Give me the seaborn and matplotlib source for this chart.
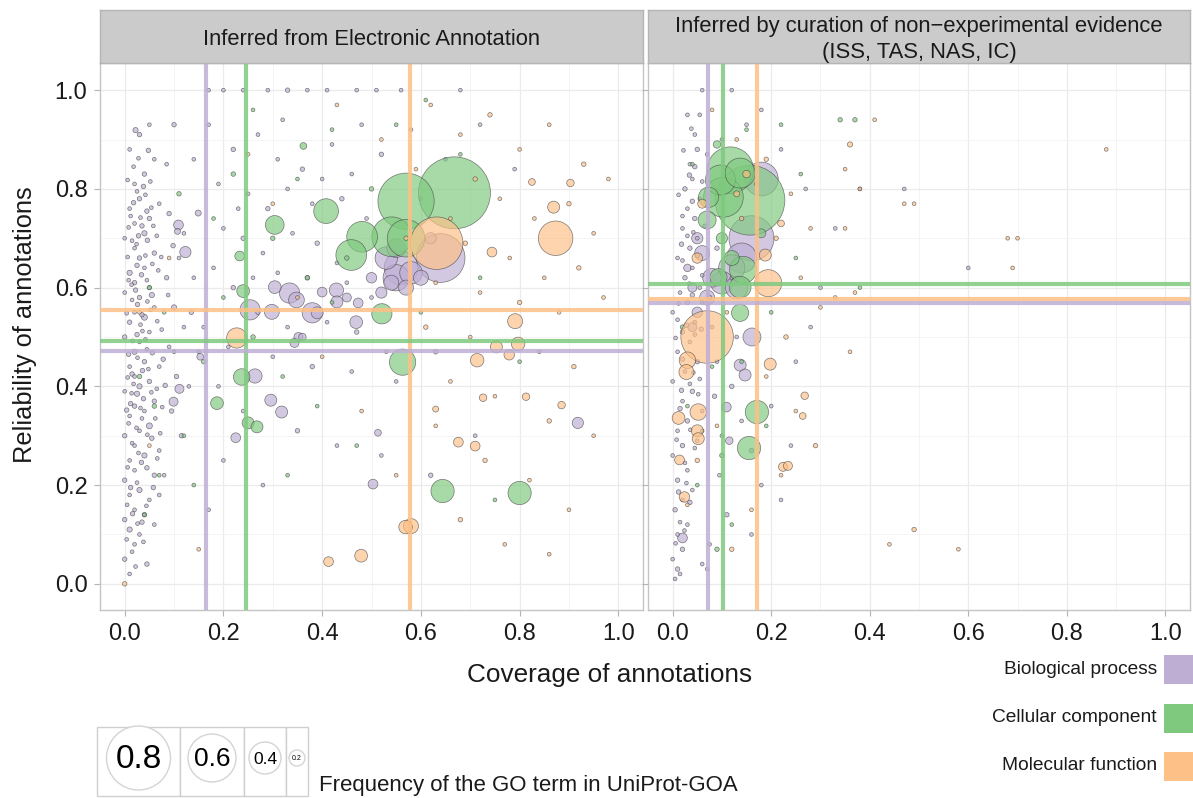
import numpy as np
import pandas as pd
import matplotlib
matplotlib.use("Agg")
import matplotlib.pyplot as plt
from matplotlib import font_manager
from matplotlib.patches import Rectangle, Circle
import seaborn as sns

# ---------------- data ----------------
CATEGORIES = ["Biological process", "Cellular component", "Molecular function"]
COLORS = ["#beaed4", "#7fc97f", "#fdc086"]
PANELS = ["Inferred from Electronic Annotation",
          "Inferred by curation of non\u2212experimental evidence\n(ISS, TAS, NAS, IC)"]

# thresholds (coverage, reliability) per category
LEFT_THRESH_X = [0.165, 0.245, 0.577]
LEFT_THRESH_Y = [0.472, 0.492, 0.555]
RIGHT_THRESH_X = [0.071, 0.103, 0.171]
RIGHT_THRESH_Y = [0.569, 0.607, 0.577]

# (coverage, reliability, frequency)
LEFT_BP = [
    (0.64, 0.66, 0.65), (0.56, 0.64, 0.45), (0.55, 0.62, 0.35), (0.58, 0.63, 0.30), (0.53, 0.66, 0.30),
    (0.57, 0.60, 0.20), (0.54, 0.61, 0.20), (0.60, 0.62, 0.20), (0.55, 0.68, 0.25), (0.52, 0.59, 0.15),
    (0.334, 0.589, 0.27), (0.348, 0.575, 0.21), (0.38, 0.549, 0.27), (0.304, 0.601, 0.17), (0.298, 0.551, 0.20),
    (0.254, 0.555, 0.27), (0.429, 0.595, 0.19), (0.43, 0.571, 0.16), (0.469, 0.53, 0.17), (0.473, 0.569, 0.13),
    (0.40, 0.591, 0.13), (0.39, 0.549, 0.16), (0.109, 0.727, 0.13), (0.123, 0.672, 0.15), (0.149, 0.751, 0.08),
    (0.107, 0.714, 0.08), (0.022, 0.919, 0.07), (0.264, 0.421, 0.19), (0.111, 0.395, 0.12), (0.099, 0.369, 0.12),
    (0.296, 0.372, 0.16), (0.318, 0.348, 0.16), (0.225, 0.296, 0.13), (0.503, 0.202, 0.13), (0.513, 0.306, 0.09),
    (0.352, 0.50, 0.12), (0.344, 0.488, 0.12), (0.153, 0.46, 0.09), (0.918, 0.326, 0.15), (0.36, 0.50, 0.10),
    (0.45, 0.58, 0.12), (0.50, 0.62, 0.14), (0.62, 0.70, 0.15),
]
LEFT_BP_SMALL = [
    (0.010, 0.020, 0.05), (0.000, 0.050, 0.06), (0.020, 0.080, 0.05), (0.010, 0.110, 0.07), (0.030, 0.100, 0.05),
    (0.000, 0.130, 0.06), (0.020, 0.150, 0.05), (0.040, 0.140, 0.06), (0.010, 0.180, 0.05), (0.030, 0.190, 0.07),
    (0.050, 0.170, 0.05), (0.000, 0.210, 0.06), (0.020, 0.230, 0.05), (0.060, 0.220, 0.06), (0.010, 0.250, 0.05),
    (0.040, 0.260, 0.07), (0.020, 0.280, 0.05), (0.070, 0.270, 0.05), (0.000, 0.300, 0.06), (0.030, 0.310, 0.05),
    (0.050, 0.320, 0.08), (0.010, 0.340, 0.05), (0.020, 0.360, 0.06), (0.040, 0.350, 0.05), (0.060, 0.370, 0.06),
    (0.000, 0.390, 0.05), (0.030, 0.400, 0.07), (0.020, 0.420, 0.05), (0.050, 0.410, 0.06), (0.010, 0.440, 0.05),
    (0.040, 0.450, 0.06), (0.070, 0.440, 0.05), (0.020, 0.470, 0.07), (0.030, 0.490, 0.05), (0.000, 0.500, 0.06),
    (0.050, 0.510, 0.05), (0.010, 0.530, 0.06), (0.020, 0.550, 0.05), (0.040, 0.540, 0.08), (0.060, 0.560, 0.05),
    (0.030, 0.580, 0.06), (0.000, 0.590, 0.05), (0.020, 0.610, 0.06), (0.050, 0.600, 0.05), (0.010, 0.630, 0.07),
    (0.040, 0.640, 0.05), (0.030, 0.660, 0.06), (0.020, 0.680, 0.05), (0.060, 0.670, 0.06), (0.000, 0.700, 0.05),
    (0.040, 0.710, 0.07), (0.020, 0.730, 0.05), (0.050, 0.740, 0.06), (0.010, 0.760, 0.05), (0.030, 0.780, 0.06),
    (0.070, 0.770, 0.05), (0.020, 0.810, 0.05), (0.040, 0.830, 0.06), (0.060, 0.860, 0.05), (0.010, 0.880, 0.05),
    (0.030, 0.910, 0.06), (0.050, 0.930, 0.05), (0.015, 0.065, 0.05), (0.035, 0.125, 0.06), (0.025, 0.205, 0.05),
    (0.045, 0.235, 0.06), (0.015, 0.285, 0.05), (0.055, 0.295, 0.06), (0.035, 0.335, 0.05), (0.025, 0.385, 0.07),
    (0.065, 0.395, 0.05), (0.015, 0.425, 0.06), (0.045, 0.475, 0.05), (0.025, 0.505, 0.06), (0.075, 0.515, 0.05),
    (0.035, 0.545, 0.06), (0.015, 0.575, 0.05), (0.055, 0.585, 0.07), (0.045, 0.615, 0.05), (0.025, 0.645, 0.06),
    (0.015, 0.695, 0.05), (0.035, 0.725, 0.06), (0.065, 0.705, 0.05), (0.045, 0.755, 0.06), (0.025, 0.795, 0.05),
    (0.085, 0.620, 0.06), (0.090, 0.480, 0.05), (0.095, 0.350, 0.06), (0.080, 0.220, 0.05), (0.100, 0.560, 0.07),
    (0.110, 0.660, 0.05), (0.105, 0.420, 0.06), (0.120, 0.520, 0.05), (0.090, 0.750, 0.06), (0.130, 0.400, 0.05),
    (0.115, 0.300, 0.06), (0.140, 0.620, 0.05), (0.085, 0.850, 0.05), (0.100, 0.930, 0.06), (0.120, 0.710, 0.05),
    (0.135, 0.550, 0.06), (0.150, 0.470, 0.05), (0.060, 0.120, 0.05), (0.045, 0.040, 0.06), (0.070, 0.180, 0.05),
    (0.005, 0.160, 0.05), (0.012, 0.195, 0.06), (0.028, 0.265, 0.05), (0.008, 0.325, 0.05), (0.038, 0.375, 0.06),
    (0.018, 0.405, 0.05), (0.048, 0.435, 0.05), (0.008, 0.465, 0.06), (0.032, 0.525, 0.05), (0.052, 0.555, 0.05),
    (0.022, 0.595, 0.06), (0.008, 0.615, 0.05), (0.042, 0.665, 0.05), (0.028, 0.705, 0.06), (0.058, 0.725, 0.05),
    (0.012, 0.745, 0.05), (0.038, 0.805, 0.06), (0.052, 0.815, 0.05), (0.018, 0.845, 0.05), (0.068, 0.635, 0.05),
    (0.078, 0.455, 0.06), (0.062, 0.335, 0.05), (0.072, 0.305, 0.05), (0.058, 0.195, 0.06), (0.038, 0.085, 0.05),
    (0.022, 0.035, 0.05), (0.012, 0.365, 0.06), (0.042, 0.495, 0.05), (0.088, 0.585, 0.05), (0.098, 0.685, 0.06),
    (0.004, 0.090, 0.05), (0.026, 0.122, 0.05), (0.016, 0.142, 0.06), (0.044, 0.158, 0.05), (0.006, 0.236, 0.05),
    (0.034, 0.246, 0.06), (0.024, 0.316, 0.05), (0.046, 0.302, 0.05), (0.004, 0.352, 0.06), (0.032, 0.356, 0.05),
    (0.054, 0.388, 0.05), (0.014, 0.386, 0.05), (0.036, 0.432, 0.06), (0.006, 0.418, 0.05), (0.026, 0.458, 0.05),
    (0.056, 0.468, 0.06), (0.016, 0.492, 0.05), (0.036, 0.512, 0.05), (0.004, 0.548, 0.05), (0.026, 0.566, 0.06),
    (0.046, 0.572, 0.05), (0.014, 0.606, 0.05), (0.034, 0.626, 0.06), (0.056, 0.648, 0.05), (0.006, 0.662, 0.05),
    (0.024, 0.688, 0.05), (0.046, 0.696, 0.06), (0.008, 0.722, 0.05), (0.032, 0.742, 0.05), (0.054, 0.762, 0.05),
    (0.018, 0.772, 0.06), (0.042, 0.788, 0.05), (0.006, 0.818, 0.05), (0.028, 0.862, 0.05), (0.048, 0.878, 0.06),
    (0.076, 0.358, 0.05), (0.066, 0.532, 0.05), (0.082, 0.402, 0.06), (0.074, 0.662, 0.05), (0.066, 0.254, 0.05),
    (0.17, 1.00, 0.05), (0.24, 1.00, 0.05), (0.33, 1.00, 0.06), (0.41, 1.00, 0.05), (0.47, 1.00, 0.05),
    (0.56, 1.00, 0.05), (0.17, 0.93, 0.05), (0.22, 0.88, 0.06), (0.27, 0.91, 0.05), (0.31, 0.86, 0.05),
    (0.36, 0.84, 0.06), (0.42, 0.89, 0.05), (0.46, 0.83, 0.05), (0.52, 0.87, 0.06), (0.19, 0.81, 0.05),
    (0.25, 0.79, 0.05), (0.29, 0.76, 0.06), (0.33, 0.80, 0.05), (0.38, 0.77, 0.05), (0.44, 0.78, 0.06),
    (0.49, 0.74, 0.05), (0.20, 0.72, 0.05), (0.24, 0.70, 0.06), (0.28, 0.67, 0.05), (0.34, 0.71, 0.05),
    (0.39, 0.69, 0.06), (0.43, 0.65, 0.05), (0.18, 0.64, 0.05), (0.22, 0.60, 0.06), (0.26, 0.62, 0.05),
    (0.31, 0.63, 0.05), (0.37, 0.62, 0.06), (0.45, 0.61, 0.05), (0.50, 0.58, 0.05), (0.27, 0.55, 0.06),
    (0.33, 0.52, 0.05), (0.41, 0.53, 0.05), (0.47, 0.51, 0.06), (0.21, 0.48, 0.05), (0.30, 0.46, 0.05),
    (0.38, 0.44, 0.06), (0.46, 0.43, 0.05), (0.55, 0.41, 0.05), (0.63, 0.47, 0.06), (0.19, 0.40, 0.05),
    (0.24, 0.35, 0.05), (0.35, 0.31, 0.06), (0.43, 0.28, 0.05), (0.52, 0.26, 0.05), (0.62, 0.22, 0.06),
    (0.71, 0.30, 0.05), (0.20, 0.25, 0.05), (0.28, 0.20, 0.05), (0.17, 0.15, 0.05), (0.60, 0.78, 0.05),
    (0.65, 0.86, 0.05), (0.72, 0.93, 0.05), (0.79, 0.84, 0.05), (0.58, 0.92, 0.05), (0.68, 1.00, 0.05),
    (0.16, 0.52, 0.05), (0.20, 1.00, 0.05), (0.29, 1.00, 0.05), (0.37, 1.00, 0.05), (0.51, 1.00, 0.05),
    (0.14, 0.86, 0.05), (0.32, 0.94, 0.05), (0.40, 0.82, 0.05), (0.48, 0.93, 0.05), (0.23, 0.76, 0.05),
]
LEFT_CC = [
    (0.668, 0.792, 0.96), (0.57, 0.775, 0.75), (0.57, 0.70, 0.50), (0.541, 0.703, 0.53), (0.481, 0.703, 0.41),
    (0.459, 0.666, 0.41), (0.408, 0.755, 0.33), (0.304, 0.727, 0.25), (0.362, 0.887, 0.09), (0.233, 0.664, 0.13),
    (0.24, 0.593, 0.17), (0.521, 0.547, 0.27), (0.563, 0.449, 0.35), (0.644, 0.188, 0.31), (0.80, 0.184, 0.31),
    (0.237, 0.419, 0.22), (0.187, 0.366, 0.17), (0.25, 0.326, 0.16), (0.268, 0.318, 0.16),
    (0.05, 0.60, 0.06), (0.08, 0.55, 0.05), (0.03, 0.42, 0.06), (0.10, 0.47, 0.05), (0.06, 0.36, 0.06),
    (0.12, 0.30, 0.05), (0.07, 0.22, 0.05), (0.16, 0.45, 0.06), (0.20, 0.58, 0.05), (0.26, 0.50, 0.06),
    (0.32, 0.42, 0.05), (0.37, 0.62, 0.06), (0.42, 0.57, 0.05), (0.30, 0.70, 0.06), (0.35, 0.82, 0.05),
    (0.42, 0.92, 0.05), (0.50, 0.80, 0.06), (0.55, 0.93, 0.05), (0.61, 0.98, 0.05), (0.68, 0.87, 0.05),
    (0.22, 0.83, 0.06), (0.18, 0.74, 0.05), (0.45, 0.66, 0.06), (0.60, 0.55, 0.05), (0.72, 0.62, 0.05),
    (0.26, 0.96, 0.05), (0.14, 0.20, 0.05), (0.04, 0.14, 0.05), (0.39, 0.36, 0.05), (0.75, 0.17, 0.05),
    (0.47, 0.28, 0.05), (0.80, 0.45, 0.05), (0.33, 0.22, 0.05), (0.11, 0.79, 0.06),
]
LEFT_MF = [
    (0.632, 0.69, 0.70), (0.873, 0.70, 0.46), (0.869, 0.763, 0.16), (0.903, 0.812, 0.10), (0.825, 0.814, 0.09),
    (0.744, 0.672, 0.13), (0.791, 0.532, 0.20), (0.797, 0.486, 0.18), (0.753, 0.48, 0.16), (0.779, 0.464, 0.14),
    (0.714, 0.453, 0.18), (0.726, 0.377, 0.10), (0.813, 0.379, 0.10), (0.885, 0.362, 0.10), (0.63, 0.354, 0.08),
    (0.676, 0.287, 0.13), (0.71, 0.279, 0.13), (0.58, 0.117, 0.20), (0.569, 0.115, 0.18), (0.479, 0.057, 0.17),
    (0.413, 0.045, 0.13), (0.227, 0.498, 0.27),
    (0.62, 0.97, 0.05), (0.68, 0.91, 0.05), (0.74, 0.95, 0.06), (0.80, 0.88, 0.05), (0.86, 0.93, 0.05),
    (0.93, 0.85, 0.06), (0.98, 0.82, 0.05), (0.59, 0.84, 0.05), (0.71, 0.82, 0.06), (0.76, 0.78, 0.05),
    (0.83, 0.74, 0.05), (0.90, 0.77, 0.06), (0.95, 0.71, 0.05), (0.66, 0.74, 0.05), (0.69, 0.69, 0.06),
    (0.78, 0.66, 0.05), (0.85, 0.62, 0.05), (0.92, 0.64, 0.06), (0.63, 0.61, 0.05), (0.72, 0.59, 0.05),
    (0.80, 0.57, 0.06), (0.88, 0.55, 0.05), (0.97, 0.58, 0.05), (0.61, 0.52, 0.06), (0.70, 0.50, 0.05),
    (0.84, 0.47, 0.05), (0.91, 0.44, 0.06), (0.66, 0.41, 0.05), (0.75, 0.38, 0.05), (0.86, 0.33, 0.06),
    (0.95, 0.30, 0.05), (0.63, 0.32, 0.05), (0.73, 0.25, 0.06), (0.82, 0.21, 0.05), (0.90, 0.15, 0.05),
    (0.68, 0.13, 0.06), (0.77, 0.08, 0.05), (0.86, 0.06, 0.05), (0.55, 0.22, 0.05), (0.48, 0.35, 0.05),
    (0.40, 0.46, 0.05), (0.35, 0.58, 0.05), (0.30, 0.77, 0.05), (0.25, 0.87, 0.05), (0.43, 0.97, 0.05),
    (0.52, 0.90, 0.05), (0.57, 0.70, 0.06), (0.53, 0.47, 0.05), (0.05, 0.28, 0.05), (0.03, 0.55, 0.05),
    (0.09, 0.66, 0.05), (0.15, 0.07, 0.05), (0.00, 0.00, 0.06),
]

RIGHT_BP = [
    (0.16, 0.70, 0.60), (0.18, 0.82, 0.45), (0.14, 0.66, 0.40), (0.12, 0.64, 0.35), (0.10, 0.61, 0.30),
    (0.08, 0.62, 0.25), (0.06, 0.67, 0.20), (0.05, 0.70, 0.15), (0.13, 0.60, 0.30), (0.07, 0.58, 0.20),
    (0.161, 0.50, 0.24), (0.137, 0.443, 0.16), (0.147, 0.423, 0.16), (0.109, 0.358, 0.13), (0.115, 0.29, 0.10),
    (0.02, 0.093, 0.13), (0.04, 0.60, 0.12), (0.03, 0.64, 0.10), (0.05, 0.55, 0.14), (0.04, 0.52, 0.12),
]
RIGHT_BP_SMALL = [
    (0.005, 0.010, 0.05), (0.010, 0.030, 0.06), (0.000, 0.050, 0.05), (0.015, 0.020, 0.05), (0.020, 0.070, 0.06),
    (0.010, 0.100, 0.05), (0.030, 0.120, 0.05), (0.005, 0.150, 0.06), (0.020, 0.170, 0.05), (0.040, 0.190, 0.05),
    (0.010, 0.210, 0.06), (0.030, 0.230, 0.05), (0.000, 0.260, 0.05), (0.020, 0.280, 0.06), (0.050, 0.290, 0.05),
    (0.010, 0.310, 0.05), (0.030, 0.330, 0.06), (0.060, 0.350, 0.05), (0.020, 0.370, 0.05), (0.040, 0.390, 0.06),
    (0.000, 0.410, 0.05), (0.025, 0.430, 0.05), (0.050, 0.450, 0.06), (0.010, 0.470, 0.05), (0.035, 0.490, 0.05),
    (0.020, 0.510, 0.06), (0.045, 0.530, 0.05), (0.000, 0.550, 0.05), (0.030, 0.570, 0.06), (0.015, 0.590, 0.05),
    (0.055, 0.600, 0.05), (0.025, 0.620, 0.06), (0.040, 0.640, 0.05), (0.010, 0.660, 0.05), (0.035, 0.680, 0.06),
    (0.050, 0.700, 0.05), (0.020, 0.720, 0.05), (0.045, 0.740, 0.06), (0.030, 0.760, 0.05), (0.055, 0.780, 0.05),
    (0.025, 0.800, 0.06), (0.040, 0.820, 0.05), (0.035, 0.850, 0.05), (0.050, 0.880, 0.06), (0.045, 0.910, 0.05),
    (0.030, 0.950, 0.05), (0.015, 0.125, 0.05), (0.035, 0.165, 0.06), (0.025, 0.245, 0.05), (0.045, 0.275, 0.05),
    (0.015, 0.355, 0.06), (0.035, 0.405, 0.05), (0.055, 0.415, 0.05), (0.020, 0.455, 0.06), (0.045, 0.505, 0.05),
    (0.010, 0.535, 0.05), (0.040, 0.585, 0.06), (0.060, 0.625, 0.05), (0.020, 0.655, 0.05), (0.050, 0.665, 0.06),
    (0.030, 0.705, 0.05), (0.065, 0.725, 0.05), (0.040, 0.775, 0.06), (0.020, 0.745, 0.05), (0.060, 0.815, 0.05),
    (0.045, 0.845, 0.06), (0.070, 0.870, 0.05), (0.055, 0.950, 0.05), (0.075, 0.580, 0.06), (0.080, 0.520, 0.05),
    (0.090, 0.450, 0.05), (0.085, 0.380, 0.06), (0.100, 0.300, 0.05), (0.095, 0.220, 0.05), (0.110, 0.140, 0.06),
    (0.075, 0.080, 0.05), (0.060, 0.040, 0.05), (0.120, 0.400, 0.06), (0.130, 0.500, 0.05), (0.140, 0.330, 0.05),
    (0.160, 0.270, 0.06), (0.180, 0.200, 0.05), (0.120, 0.620, 0.05), (0.090, 0.680, 0.06), (0.100, 0.900, 0.05),
    (0.150, 0.930, 0.05), (0.16, 0.10, 0.05), (0.22, 0.17, 0.05), (0.25, 0.45, 0.05), (0.28, 0.52, 0.05),
    (0.20, 0.36, 0.05), (0.24, 0.28, 0.05), (0.30, 0.60, 0.05), (0.27, 0.80, 0.05), (0.22, 0.88, 0.05),
    (0.18, 0.96, 0.05), (0.12, 1.00, 0.05), (0.06, 1.00, 0.05), (0.33, 0.72, 0.05), (0.60, 0.64, 0.05),
    (0.38, 0.80, 0.05), (0.47, 0.80, 0.05),
    (0.006, 0.082, 0.05), (0.024, 0.108, 0.05), (0.012, 0.186, 0.06), (0.028, 0.204, 0.05), (0.008, 0.292, 0.05),
    (0.036, 0.312, 0.05), (0.018, 0.392, 0.06), (0.042, 0.428, 0.05), (0.006, 0.498, 0.05), (0.028, 0.524, 0.06),
    (0.012, 0.568, 0.05), (0.034, 0.608, 0.05), (0.018, 0.688, 0.06), (0.042, 0.712, 0.05), (0.012, 0.788, 0.05),
    (0.034, 0.828, 0.06), (0.022, 0.878, 0.05), (0.038, 0.922, 0.05), (0.052, 0.384, 0.05), (0.058, 0.516, 0.06),
]
RIGHT_CC = [
    (0.157, 0.777, 0.93), (0.117, 0.838, 0.62), (0.103, 0.783, 0.53), (0.097, 0.818, 0.40), (0.073, 0.783, 0.27),
    (0.137, 0.832, 0.40), (0.07, 0.737, 0.24), (0.143, 0.636, 0.36), (0.137, 0.601, 0.29), (0.093, 0.621, 0.23),
    (0.137, 0.549, 0.23), (0.171, 0.348, 0.31), (0.155, 0.275, 0.31), (0.12, 0.66, 0.20), (0.09, 0.89, 0.10),
    (0.10, 0.70, 0.15), (0.18, 0.71, 0.12),
    (0.04, 0.85, 0.05), (0.06, 0.57, 0.05), (0.02, 0.52, 0.06), (0.08, 0.44, 0.05), (0.03, 0.36, 0.05),
    (0.10, 0.26, 0.06), (0.05, 0.20, 0.05), (0.12, 0.12, 0.05), (0.09, 0.07, 0.06), (0.14, 0.45, 0.05),
    (0.20, 0.55, 0.05), (0.22, 0.93, 0.05), (0.26, 0.83, 0.05), (0.34, 0.94, 0.06), (0.37, 0.94, 0.06),
    (0.38, 0.60, 0.05), (0.25, 0.66, 0.05), (0.15, 0.92, 0.05), (0.19, 0.32, 0.05), (0.06, 0.31, 0.05),
]
RIGHT_MF = [
    (0.07, 0.50, 0.70), (0.194, 0.609, 0.36), (0.188, 0.666, 0.16), (0.03, 0.453, 0.22), (0.028, 0.429, 0.20),
    (0.052, 0.348, 0.22), (0.012, 0.336, 0.17), (0.05, 0.31, 0.16), (0.052, 0.294, 0.16), (0.014, 0.251, 0.13),
    (0.024, 0.176, 0.14), (0.198, 0.445, 0.16), (0.224, 0.237, 0.12), (0.234, 0.239, 0.12), (0.268, 0.381, 0.10),
    (0.264, 0.34, 0.09), (0.06, 0.77, 0.12), (0.05, 0.66, 0.14), (0.15, 0.83, 0.10), (0.13, 0.79, 0.08),
    (0.22, 0.73, 0.09),
    (0.08, 0.96, 0.05), (0.13, 0.90, 0.05), (0.19, 0.86, 0.06), (0.24, 0.79, 0.05), (0.28, 0.72, 0.05),
    (0.21, 0.70, 0.06), (0.26, 0.62, 0.05), (0.30, 0.56, 0.05), (0.23, 0.50, 0.06), (0.19, 0.42, 0.05),
    (0.25, 0.35, 0.05), (0.29, 0.28, 0.06), (0.22, 0.22, 0.05), (0.16, 0.15, 0.05), (0.12, 0.07, 0.06),
    (0.07, 0.03, 0.05), (0.03, 0.16, 0.05), (0.05, 0.25, 0.06), (0.09, 0.32, 0.05), (0.11, 0.55, 0.05),
    (0.14, 0.74, 0.06), (0.17, 0.81, 0.05), (0.36, 0.89, 0.07), (0.41, 0.94, 0.05), (0.35, 0.84, 0.05),
    (0.38, 0.80, 0.05), (0.47, 0.77, 0.05), (0.49, 0.77, 0.05), (0.68, 0.70, 0.05), (0.70, 0.70, 0.05),
    (0.69, 0.64, 0.05), (0.35, 0.72, 0.05), (0.37, 0.59, 0.05), (0.33, 0.58, 0.05), (0.36, 0.47, 0.05),
    (0.44, 0.08, 0.05), (0.49, 0.11, 0.06), (0.58, 0.07, 0.05), (0.88, 0.88, 0.05),
]

SIZE_LEGEND = [0.8, 0.6, 0.4, 0.2]

# ---------------- helpers ----------------
names = {f.name for f in font_manager.fontManager.ttflist}
NARROW = "Liberation Sans Narrow" if "Liberation Sans Narrow" in names else "Liberation Sans"
BASE = "Liberation Sans" if "Liberation Sans" in names else "DejaVu Sans"

sns.set_theme(style="white")
plt.rcParams["font.family"] = [BASE, "DejaVu Sans"]

W, H = 1193, 798
fig = plt.figure(figsize=(W / 100, H / 100), dpi=100)

def fr(x0, y0, x1, y1):
    return [x0 / W, 1 - y1 / H, (x1 - x0) / W, (y1 - y0) / H]

def frame(groups):
    rows = []
    for k, (cat, pts) in enumerate(groups):
        for x, y, f in pts:
            rows.append((k, cat, x, y, f))
    df = pd.DataFrame(rows, columns=["order", "category", "coverage", "reliability", "freq"])
    df["area"] = df["freq"] ** 2
    df = df.sort_values(["order", "freq"], ascending=[True, False], kind="stable")
    return df.reset_index(drop=True)

PX2PT = 0.72
SMAX = (75 * PX2PT) ** 2  # marker area for frequency 1.0 (diameter 75 px)
palette = dict(zip(CATEGORIES, COLORS))

left_df = frame([(CATEGORIES[0], LEFT_BP + LEFT_BP_SMALL), (CATEGORIES[1], LEFT_CC), (CATEGORIES[2], LEFT_MF)])
right_df = frame([(CATEGORIES[0], RIGHT_BP + RIGHT_BP_SMALL), (CATEGORIES[1], RIGHT_CC), (CATEGORIES[2], RIGHT_MF)])

panel_boxes = [(100, 63, 643, 610), (648, 63, 1190, 610)]
strip_boxes = [(100, 10, 643, 63), (648, 10, 1190, 63)]
datasets = [(left_df, LEFT_THRESH_X, LEFT_THRESH_Y), (right_df, RIGHT_THRESH_X, RIGHT_THRESH_Y)]

for i, ((df, tx, ty), box, sbox, title) in enumerate(zip(datasets, panel_boxes, strip_boxes, PANELS)):
    ax = fig.add_axes(fr(*box))
    ax.set_facecolor("white")
    sns.scatterplot(data=df, x="coverage", y="reliability", hue="category", palette=palette,
                    size="area", sizes=(0, SMAX), size_norm=(0, 1), alpha=0.68,
                    edgecolor="#404040", linewidth=0.5, legend=False, ax=ax, zorder=2)
    for c, v in zip(COLORS, tx):
        ax.axvline(v, color=c, lw=3.0, alpha=0.85, zorder=3)
    for c, v in zip(COLORS, ty):
        ax.axhline(v, color=c, lw=3.0, alpha=0.85, zorder=3)
    ax.set_xlim(-0.05, 1.05)
    ax.set_ylim(-0.053, 1.055)
    ticks = [0.0, 0.2, 0.4, 0.6, 0.8, 1.0]
    ax.set_xticks(ticks)
    ax.set_yticks(ticks)
    ax.set_xticks([0.1, 0.3, 0.5, 0.7, 0.9], minor=True)
    ax.set_yticks([0.1, 0.3, 0.5, 0.7, 0.9], minor=True)
    ax.grid(which="major", color="#ebebeb", lw=0.9, zorder=0)
    ax.grid(which="minor", color="#f3f3f3", lw=0.6, zorder=0)
    ax.set_axisbelow(True)
    ax.set_xticklabels([f"{t:.1f}" for t in ticks], fontsize=17, fontfamily=NARROW, color="#1a1a1a")
    if i == 0:
        ax.set_yticklabels([f"{t:.1f}" for t in ticks], fontsize=17, color="#1a1a1a")
    else:
        ax.set_yticklabels([])
    ax.tick_params(which="major", length=4, width=0.8, color="#b3b3b3", pad=5, bottom=True, left=True)
    ax.tick_params(which="minor", length=0)
    for s in ax.spines.values():
        s.set_color("#c4c4c4")
        s.set_linewidth(1.0)
    ax.set_xlabel("")
    ax.set_ylabel("")

    sax = fig.add_axes(fr(*sbox))
    sax.set_facecolor("#cbcbcb")
    sax.set_xticks([]); sax.set_yticks([])
    sax.set_xlim(0, 1); sax.set_ylim(sbox[3], sbox[1])
    for s in sax.spines.values():
        s.set_color("#b5b5b5")
        s.set_linewidth(1.0)
    sax.text(0.5, 39.5, title, ha="center", va="center", fontsize=15.8, fontfamily=NARROW,
             color="#1a1a1a", linespacing=1.3)

# axis titles
fig.text(25 / W, 1 - 325 / H, "Reliability of annotations", rotation=90, ha="center", va="center",
         fontsize=18.3, color="#1a1a1a")
fig.text(610 / W, 1 - 675 / H, "Coverage of annotations", ha="center", va="center",
         fontsize=18.8, color="#1a1a1a")

# overlay for legends, pixel coordinates
ov = fig.add_axes([0, 0, 1, 1])
ov.set_xlim(0, W); ov.set_ylim(H, 0)
ov.axis("off")
ov.patch.set_alpha(0)

# category legend
leg_y = [669, 718, 766]
for cat, col, y in zip(CATEGORIES, COLORS, leg_y):
    ov.add_patch(Rectangle((1164, y - 14), 30, 28.5, facecolor=col, edgecolor="none"))
    ov.text(1157, y, cat, ha="right", va="center", fontsize=13.8, color="#1a1a1a")

# size legend
cells = [(97, 180), (180, 244), (244, 286), (286, 308)]
font_sizes = [24, 19, 12.5, 5]
for (x0, x1), f, fs in zip(cells, SIZE_LEGEND, font_sizes):
    ov.add_patch(Rectangle((x0, 727), x1 - x0, 69, facecolor="white", edgecolor="#cfcfcf", lw=1.0))
    cx = (x0 + x1) / 2
    ov.add_patch(Circle((cx, 758), 80 * f / 2, facecolor="white", edgecolor="#d4d4d4", lw=1.0))
    ov.text(cx, 759, f"{f:.1f}", ha="center", va="center", fontsize=fs, color="black")
ov.text(319, 786, "Frequency of the GO term in UniProt-GOA", ha="left", va="center",
        fontsize=16, color="#1a1a1a")

fig.savefig("out.png", dpi=100)
